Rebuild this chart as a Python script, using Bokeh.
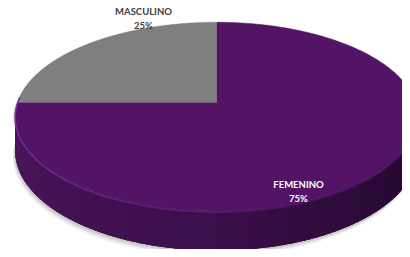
import numpy as np
from bokeh.plotting import figure
from bokeh.models import Range1d
from bokeh.core.properties import value
from bokeh.embed import file_html
from bokeh.resources import INLINE

# ---- data ----
categories = ["FEMENINO", "MASCULINO"]
values = [75, 25]
percent_labels = ["75%", "25%"]
colors = ["#541466", "#7f7f7f"]
label_colors = ["#ffffff", "#404040"]

# ---- layout / style (screen geometry of the 3D pie) ----
CX, CY = 216.0, 103.0   # projected centre
A, B = 199.0, 93.3      # horizontal / vertical radius scale
K = 0.152               # perspective factor
D0 = 34.0               # side depth
label_pos = {"FEMENINO": (298, 193), "MASCULINO": (143, 18)}

def proj(t, drop=0.0):
    X, Y = np.cos(t), np.sin(t)
    w = 1 + K * Y
    return CX + A * X / w, CY - B * Y / w + drop / w

p = figure(width=402, height=249, output_backend="svg", toolbar_location=None,
           x_range=Range1d(0, 402), y_range=Range1d(252, 0),
           min_border=0, outline_line_color=None,
           background_fill_color="white", border_fill_color="white")
p.axis.visible = False
p.grid.visible = False

# ---- shadow ----
tf = np.linspace(np.pi, 2 * np.pi, 120)
for off, alpha in [(5, 0.05), (3.5, 0.07), (2, 0.09)]:
    x_top, y_top = proj(tf)
    x_bot, y_bot = proj(tf, D0 + off)
    sx = np.concatenate([x_top - off * 0.5, x_bot[::-1] - off * 0.5])
    sy = np.concatenate([y_top, y_bot[::-1]])
    p.patch(sx, sy, fill_color="#000000", fill_alpha=alpha, line_color=None)

# ---- side (front arc with gradient) ----
t_left = np.pi + np.arcsin(K)
t_right = 2 * np.pi - np.arcsin(K)
tt_all = np.linspace(t_left, t_right, 200)
xa, ya = proj(tt_all)
xb_, yb_ = proj(tt_all, D0)
p.patch(np.concatenate([xa, xb_[::-1]]), np.concatenate([ya, yb_[::-1]]),
        fill_color="#330d42", line_color=None)

N = 90
edges = np.linspace(t_left, t_right, N + 1)
c_left = np.array([0x4c, 0x16, 0x5c])
c_mid = np.array([0x3a, 0x0f, 0x4a])
c_right = np.array([0x1f, 0x07, 0x28])
step = edges[1] - edges[0]
xs, ys, cols = [], [], []
for i in range(N):
    f = (i + 0.5) / N
    if f < 0.5:
        c = c_left + (c_mid - c_left) * (f / 0.5)
    else:
        c = c_mid + (c_right - c_mid) * ((f - 0.5) / 0.5)
    col = "#%02x%02x%02x" % tuple(int(v) for v in c)
    t1 = edges[i + 1] + (0.6 * step if i < N - 1 else 0)
    tt = np.linspace(edges[i], t1, 5)
    xt, yt = proj(tt)
    xb, yb = proj(tt, D0)
    xs.append(list(np.concatenate([xt, xb[::-1]])))
    ys.append(list(np.concatenate([yt, yb[::-1]])))
    cols.append(col)
p.patches(xs, ys, fill_color=cols, line_color=None)

# ---- top face wedges (Excel: start at 12 o'clock, clockwise) ----
total = float(sum(values))
start = np.pi / 2
wx, wy = [], []
for v in values:
    sweep = 2 * np.pi * v / total
    tt = np.linspace(start, start - sweep, 200)
    xr, yr = proj(tt)
    wx.append([CX] + list(xr))
    wy.append([CY] + list(yr))
    start -= sweep
p.patches(wx, wy, fill_color=colors, line_color=colors, line_width=0.5)

# ---- rim highlight ----
th = np.linspace(np.pi * 0.98, 1.82 * np.pi, 80)
hx, hy = proj(th, 1.0)
segx, segy, sega = [], [], []
for i in range(len(th) - 1):
    segx.append([hx[i], hx[i + 1]])
    segy.append([hy[i], hy[i + 1]])
    f = i / (len(th) - 1)
    sega.append(0.9 * (1 - f) + 0.1)
p.multi_line(segx, segy, line_color="#7a2d9a", line_alpha=sega, line_width=1.6)

# ---- labels ----
for cat, pct, lc in zip(categories, percent_labels, label_colors):
    lx, ly = label_pos[cat]
    p.text(x=[lx, lx], y=[ly - 7, ly + 7], text=[cat, pct],
           text_align="center", text_baseline="middle",
           text_font=value("Lato"), text_font_size="9.5px",
           text_font_style="bold", text_color=lc)

open("out.html", "w").write(file_html(p, INLINE))
